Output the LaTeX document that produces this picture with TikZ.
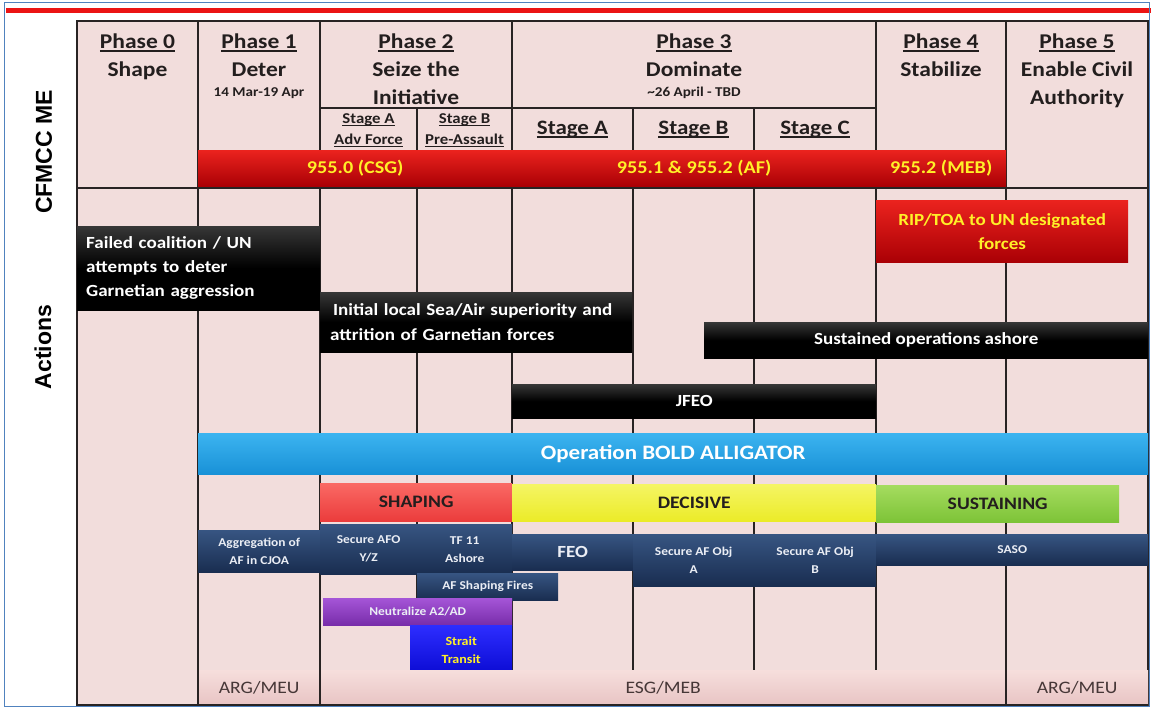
\documentclass[tikz,border=0pt]{standalone}
\usepackage{fontspec}
\setmainfont{Carlito}[FakeStretch=1.12]
\newfontfamily\arialf{Liberation Sans}
\newcommand\fsz[2]{\fontsize{#1}{#2}\selectfont}
\newcommand\ulx[1]{\setbox0=\hbox{#1}\rlap{\rule[-0.13em]{\wd0}{0.065em}}\copy0}
\definecolor{pinkbg}{RGB}{242,221,220}
\definecolor{bordblue}{RGB}{80,130,190}
\definecolor{redline}{RGB}{235,20,20}
\definecolor{hdrtext}{RGB}{35,30,30}
\definecolor{gridc}{RGB}{40,35,35}
\definecolor{ylw}{RGB}{255,240,40}
\definecolor{redT}{RGB}{235,35,30}
\definecolor{redB}{RGB}{170,0,5}
\definecolor{blkT}{RGB}{55,55,55}
\definecolor{cyanT}{RGB}{60,180,240}
\definecolor{cyanB}{RGB}{25,145,215}
\definecolor{shapT}{RGB}{250,105,100}
\definecolor{shapB}{RGB}{235,60,60}
\definecolor{decT}{RGB}{245,245,100}
\definecolor{decB}{RGB}{235,235,40}
\definecolor{susT}{RGB}{165,220,95}
\definecolor{susB}{RGB}{125,195,55}
\definecolor{navT}{RGB}{55,85,130}
\definecolor{navB}{RGB}{25,45,80}
\definecolor{purT}{RGB}{165,85,215}
\definecolor{purB}{RGB}{120,45,170}
\definecolor{stT}{RGB}{45,45,255}
\definecolor{stB}{RGB}{10,10,210}
\definecolor{botT}{RGB}{246,222,220}
\definecolor{botB}{RGB}{232,196,196}
\definecolor{bottext}{RGB}{70,55,55}
\definecolor{navtext}{RGB}{235,238,245}
\tikzset{
  grid line/.style={draw=gridc, line width=1.4pt},
  hdr/.style={anchor=base, inner sep=0pt, text=hdrtext, font={\bfseries\fsz{21}{21}}},
  hdrsmall/.style={anchor=base, inner sep=0pt, text=hdrtext, font={\bfseries\fsz{13.5}{13.5}}},
  stagesmall/.style={anchor=base, inner sep=0pt, text=hdrtext, font={\bfseries\fsz{15}{15}}},
  stagebig/.style={anchor=base, inner sep=0pt, text=hdrtext, font={\bfseries\fsz{20.5}{20.5}}},
  sidelabel/.style={rotate=90, inner sep=0pt, text=black, font={\arialf\bfseries\fsz{23}{23}}},
  bar/.style={anchor=north west, inner sep=0pt, align=center, draw=none},
  redbar/.style={bar, top color=redT, bottom color=redB, text=ylw},
  blkbar/.style={bar, top color=blkT, bottom color=black, middle color=black, text=white},
  cyanbar/.style={bar, top color=cyanT, bottom color=cyanB, text=white},
  shapbar/.style={bar, top color=shapT, bottom color=shapB, text=hdrtext},
  decbar/.style={bar, top color=decT, bottom color=decB, text=hdrtext},
  susbar/.style={bar, top color=susT, bottom color=susB, text=hdrtext},
  navbar/.style={bar, top color=navT, bottom color=navB, text=navtext},
  purbar/.style={bar, top color=purT, bottom color=purB, text=navtext},
  stbar/.style={bar, top color=stT, bottom color=stB, text=ylw},
  botbar/.style={bar, top color=botT, bottom color=botB, text=bottext, font={\fsz{17.5}{17.5}}},
}
\begin{document}
\begin{tikzpicture}[x=1pt,y=-1pt]
\useasboundingbox (0,0) rectangle (1151,708);
\fill[white] (0,0) rectangle (1151,708);
\fill[pinkbg] (77,21) rectangle (1148,705);
\draw[redline, line width=5pt] (6,10.5) -- (1151,10.5);
% grid
\draw[grid line] (77,21) rectangle (1148,705);
\draw[grid line] (77,188) -- (1148,188);
\draw[grid line] (320,108) -- (876,108);
\foreach \gx in {198,320,512,876,1006} {\draw[grid line] (\gx,21) -- (\gx,705);}
\foreach \gx in {417,633,754} {\draw[grid line] (\gx,108) -- (\gx,705);}
\draw[bordblue, line width=1.2pt] (4.5,2.5) rectangle (1149.5,706.5);
% side labels
\node[sidelabel] (cfm) at (44,152) {CFMCC ME};
\node[sidelabel] (act) at (43,347) {Actions};
% phase headers
\node[hdr] (p0a) at (137.5,49) {\ulx{Phase 0}};
\node[hdr] (p0b) at (137.5,77) {Shape};
\node[hdr] (p1a) at (259,49) {\ulx{Phase 1}};
\node[hdr] (p1b) at (259,77) {Deter};
\node[hdrsmall] (p1c) at (259,97) {14 Mar-19 Apr};
\node[hdr] (p2a) at (416,49) {\ulx{Phase 2}};
\node[hdr] (p2b) at (416,77) {Seize the};
\node[hdr] (p2c) at (416,105) {Initiative};
\node[hdr] (p3a) at (694,49) {\ulx{Phase 3}};
\node[hdr] (p3b) at (694,77) {Dominate};
\node[hdrsmall] (p3c) at (694,97) {\textasciitilde26 April - TBD};
\node[hdr] (p4a) at (941,49) {\ulx{Phase 4}};
\node[hdr] (p4b) at (941,77) {Stabilize};
\node[hdr] (p5a) at (1077,49) {\ulx{Phase 5}};
\node[hdr] (p5b) at (1077,77) {Enable Civil};
\node[hdr] (p5c) at (1077,105) {Authority};
% stages
\node[stagesmall] (s2a) at (368.5,124) {\ulx{Stage A}};
\node[stagesmall] (s2a2) at (368.5,145) {\ulx{Adv Force}};
\node[stagesmall] (s2b) at (464.5,124) {\ulx{Stage B}};
\node[stagesmall] (s2b2) at (464.5,145) {\ulx{Pre-Assault}};
\node[stagebig] (s3a) at (572.5,135) {\ulx{Stage A}};
\node[stagebig] (s3b) at (693.5,135) {\ulx{Stage B}};
\node[stagebig] (s3c) at (815,135) {\ulx{Stage C}};
% CFMCC red bars
\node[redbar, minimum width=314, minimum height=36, font={\bfseries\fsz{18}{18}}] (csg) at (198,150) {955.0 (CSG)};
\node[redbar, minimum width=364, minimum height=36, font={\bfseries\fsz{18}{18}}] (af) at (512,150) {955.1 \& 955.2 (AF)};
\node[redbar, minimum width=130, minimum height=36, font={\bfseries\fsz{18}{18}}] (meb) at (876,150) {955.2 (MEB)};
% action bars
\node[blkbar, minimum width=243, minimum height=84, text width=225, inner xsep=9, align=left, font={\bfseries\fsz{17}{24}}] (failed) at (77,226) {Failed coalition / UN\\attempts to deter\\Garnetian aggression};
\node[blkbar, minimum width=312, minimum height=60, text width=292, inner xsep=10, align=left, font={\bfseries\fsz{17}{25}}] (initial) at (320,292) {\,Initial local Sea/Air superiority and\\attrition of Garnetian forces};
\node[blkbar, minimum width=444, minimum height=36, font={\bfseries\fsz{17}{17}}] (sustained) at (704,322) {Sustained operations ashore};
\node[redbar, minimum width=252, minimum height=62, font={\bfseries\fsz{17}{24}}] (rip) at (876,200) {RIP/TOA to UN designated\\forces};
\node[blkbar, minimum width=364, minimum height=34, font={\bfseries\fsz{17}{17}}] (jfeo) at (512,384) {JFEO};
\node[cyanbar, minimum width=950, minimum height=41, font={\bfseries\fsz{20.5}{20.5}}] (bold) at (198,433) {Operation BOLD ALLIGATOR};
\node[shapbar, minimum width=192, minimum height=38, font={\bfseries\fsz{17.5}{17.5}}] (shaping) at (320,483) {SHAPING};
\node[decbar, minimum width=364, minimum height=37, font={\bfseries\fsz{17.5}{17.5}}] (decisive) at (512,484) {DECISIVE};
\node[susbar, minimum width=243, minimum height=37, font={\bfseries\fsz{17.5}{17.5}}] (sustaining) at (876,485) {SUSTAINING};
% navy task bars
\node[navbar, minimum width=122, minimum height=42, font={\bfseries\fsz{12}{18}}] (aggr) at (198,530) {Aggregation of\\AF in CJOA};
\node[navbar, minimum width=97, minimum height=50, font={\bfseries\fsz{12}{18}}] (afo) at (320,524) {Secure AFO\\Y/Z};
\node[navbar, minimum width=95, minimum height=50, font={\bfseries\fsz{12}{18}}] (tf) at (417,524) {TF 11\\Ashore};
\node[navbar, minimum width=141, minimum height=27, font={\bfseries\fsz{12}{12}}] (fires) at (417,573) {AF Shaping Fires};
\node[purbar, minimum width=189, minimum height=27, font={\bfseries\fsz{12}{12}}] (a2ad) at (323,598) {Neutralize A2/AD};
\node[stbar, minimum width=102, minimum height=50, font={\bfseries\fsz{12.5}{18}}] (strait) at (410,625) {Strait\\Transit};
\node[navbar, minimum width=121, minimum height=36, font={\bfseries\fsz{17}{17}}] (feo) at (512,534) {FEO};
\node[navbar, minimum width=121, minimum height=52, font={\bfseries\fsz{12}{18}}] (obja) at (633,534) {Secure AF Obj\\A};
\node[navbar, minimum width=122, minimum height=52, font={\bfseries\fsz{12}{18}}] (objb) at (754,534) {Secure AF Obj\\B};
\node[navbar, minimum width=272, minimum height=31, font={\bfseries\fsz{12}{12}}] (saso) at (876,534) {SASO};
% bottom force bars
\node[botbar, minimum width=122, minimum height=35] (arg1) at (198,670) {ARG/MEU};
\node[botbar, minimum width=686, minimum height=35] (esg) at (320,670) {ESG/MEB};
\node[botbar, minimum width=142, minimum height=35] (arg2) at (1006,670) {ARG/MEU};
\foreach \gx in {198,320,1006} {\draw[grid line] (\gx,670) -- (\gx,705);}
\draw[grid line] (198,705) -- (1148,705);
\end{tikzpicture}
\end{document}
